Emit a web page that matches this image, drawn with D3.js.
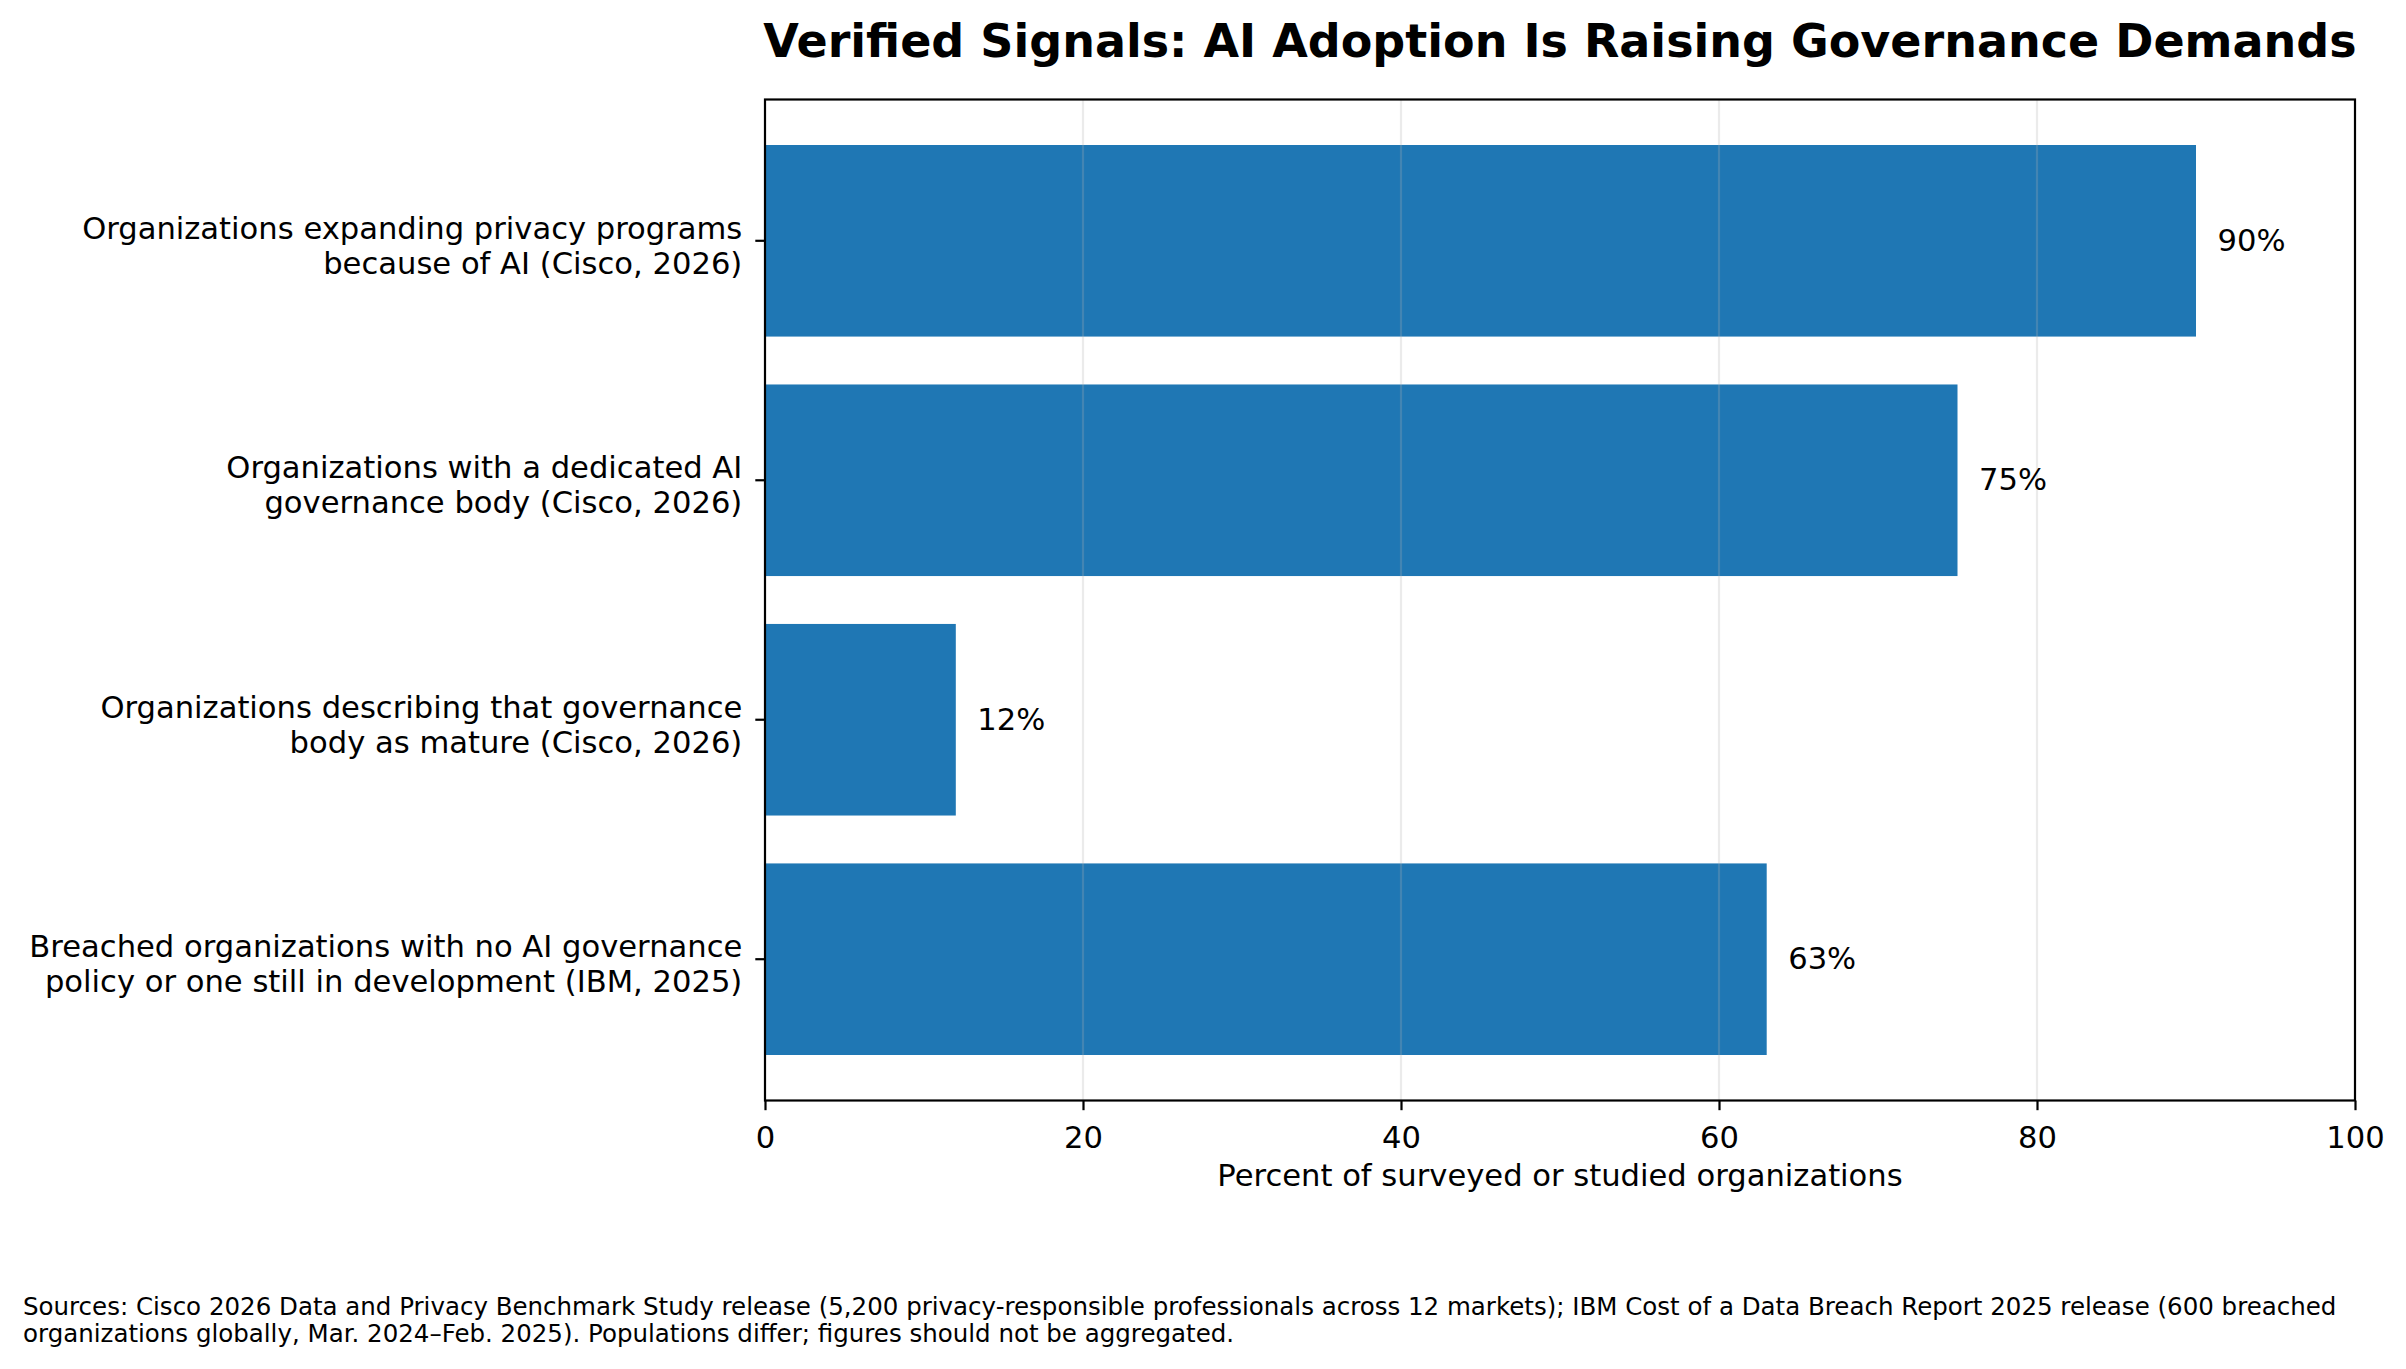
<!DOCTYPE html>
<html>
<head>
<meta charset="utf-8">
<script src="https://cdn.jsdelivr.net/npm/d3@7"></script>
<style>
  html, body { margin: 0; padding: 0; background: #fff; }
  svg { display: block; font-family: "DejaVu Sans", sans-serif; }
</style>
</head>
<body>
<script>
const categories = [
  "Organizations expanding privacy programs\nbecause of AI (Cisco, 2026)",
  "Organizations with a dedicated AI\ngovernance body (Cisco, 2026)",
  "Organizations describing that governance\nbody as mature (Cisco, 2026)",
  "Breached organizations with no AI governance\npolicy or one still in development (IBM, 2025)"
];
const values = [90, 75, 12, 63];
const valueLabels = ["90%", "75%", "12%", "63%"];
const xTicks = [0, 20, 40, 60, 80, 100];
const titleText = "Verified Signals: AI Adoption Is Raising Governance Demands";
const xLabelText = "Percent of surveyed or studied organizations";
const sourceLines = [
  "Sources: Cisco 2026 Data and Privacy Benchmark Study release (5,200 privacy-responsible professionals across 12 markets); IBM Cost of a Data Breach Report 2025 release (600 breached",
  "organizations globally, Mar. 2024\u2013Feb. 2025). Populations differ; figures should not be aggregated."
];

const W = 2406, H = 1369;
const L = 765, R = 2355, T = 99.5, B = 1100.5;
const fs = 30.6;
const lw = 2.2;

const svg = d3.select("body").append("svg").attr("width", W).attr("height", H);
svg.append("rect").attr("width", W).attr("height", H).attr("fill", "#fff");

const x = d3.scaleLinear().domain([0, 100]).range([L, R]);
const y = d3.scaleBand().domain(d3.range(categories.length)).range([T, B])
  .paddingInner(0.2).paddingOuter(0.19);

// bars
svg.append("g").selectAll("rect").data(values).join("rect")
  .attr("x", x(0)).attr("y", (d, i) => y(i))
  .attr("width", d => x(d) - x(0)).attr("height", y.bandwidth())
  .attr("fill", "#1f77b4");

// grid (drawn above bars, translucent)
svg.append("g").selectAll("line").data(xTicks.slice(1, -1)).join("line")
  .attr("x1", d => x(d)).attr("x2", d => x(d)).attr("y1", T).attr("y2", B)
  .attr("stroke", "#b0b0b0").attr("stroke-opacity", 0.25).attr("stroke-width", lw);

// value labels
svg.append("g").selectAll("text").data(values).join("text")
  .attr("x", d => x(d) + 21.5)
  .attr("y", (d, i) => y(i) + y.bandwidth() / 2 + 10)
  .attr("font-size", fs).attr("fill", "#000")
  .text((d, i) => valueLabels[i]);

// frame
svg.append("rect").attr("x", L).attr("y", T).attr("width", R - L).attr("height", B - T)
  .attr("fill", "none").attr("stroke", "#000").attr("stroke-width", lw);

// x axis
const xAxis = svg.append("g").attr("transform", `translate(0,${B})`)
  .call(d3.axisBottom(x).tickValues(xTicks).tickFormat(d3.format("d"))
    .tickSize(9.7).tickPadding(16));
xAxis.select(".domain").remove();
xAxis.selectAll(".tick line").attr("stroke", "#000").attr("stroke-width", lw);
xAxis.selectAll(".tick text").attr("font-size", fs).attr("fill", "#000")
  .attr("font-family", "DejaVu Sans");

// y axis
const yAxis = svg.append("g").attr("transform", `translate(${L},0)`)
  .call(d3.axisLeft(y).tickSize(9.7).tickPadding(13).tickFormat(""));
yAxis.select(".domain").remove();
yAxis.selectAll(".tick line").attr("stroke", "#000").attr("stroke-width", lw);
yAxis.selectAll(".tick text").each(function(d) {
  const t = d3.select(this);
  t.attr("font-size", fs).attr("fill", "#000").attr("font-family", "DejaVu Sans")
    .attr("text-anchor", "end").attr("dy", null).attr("y", 0);
  const lines = categories[d].split("\n");
  lines.forEach((ln, k) => {
    t.append("tspan").attr("x", -(9.7 + 13)).attr("y", k === 0 ? -2 : 33).text(ln);
  });
});

// x label
svg.append("text").attr("x", (L + R) / 2).attr("y", 1186)
  .attr("text-anchor", "middle").attr("font-size", fs).attr("fill", "#000")
  .text(xLabelText);

// title
svg.append("text").attr("x", (L + R) / 2).attr("y", 57)
  .attr("text-anchor", "middle").attr("font-size", 46).attr("font-weight", "bold")
  .attr("fill", "#000").text(titleText);

// sources
svg.append("g").selectAll("text").data(sourceLines).join("text")
  .attr("x", 23).attr("y", (d, i) => 1315 + i * 27)
  .attr("font-size", 24.5).attr("fill", "#000").text(d => d);
</script>
</body>
</html>
